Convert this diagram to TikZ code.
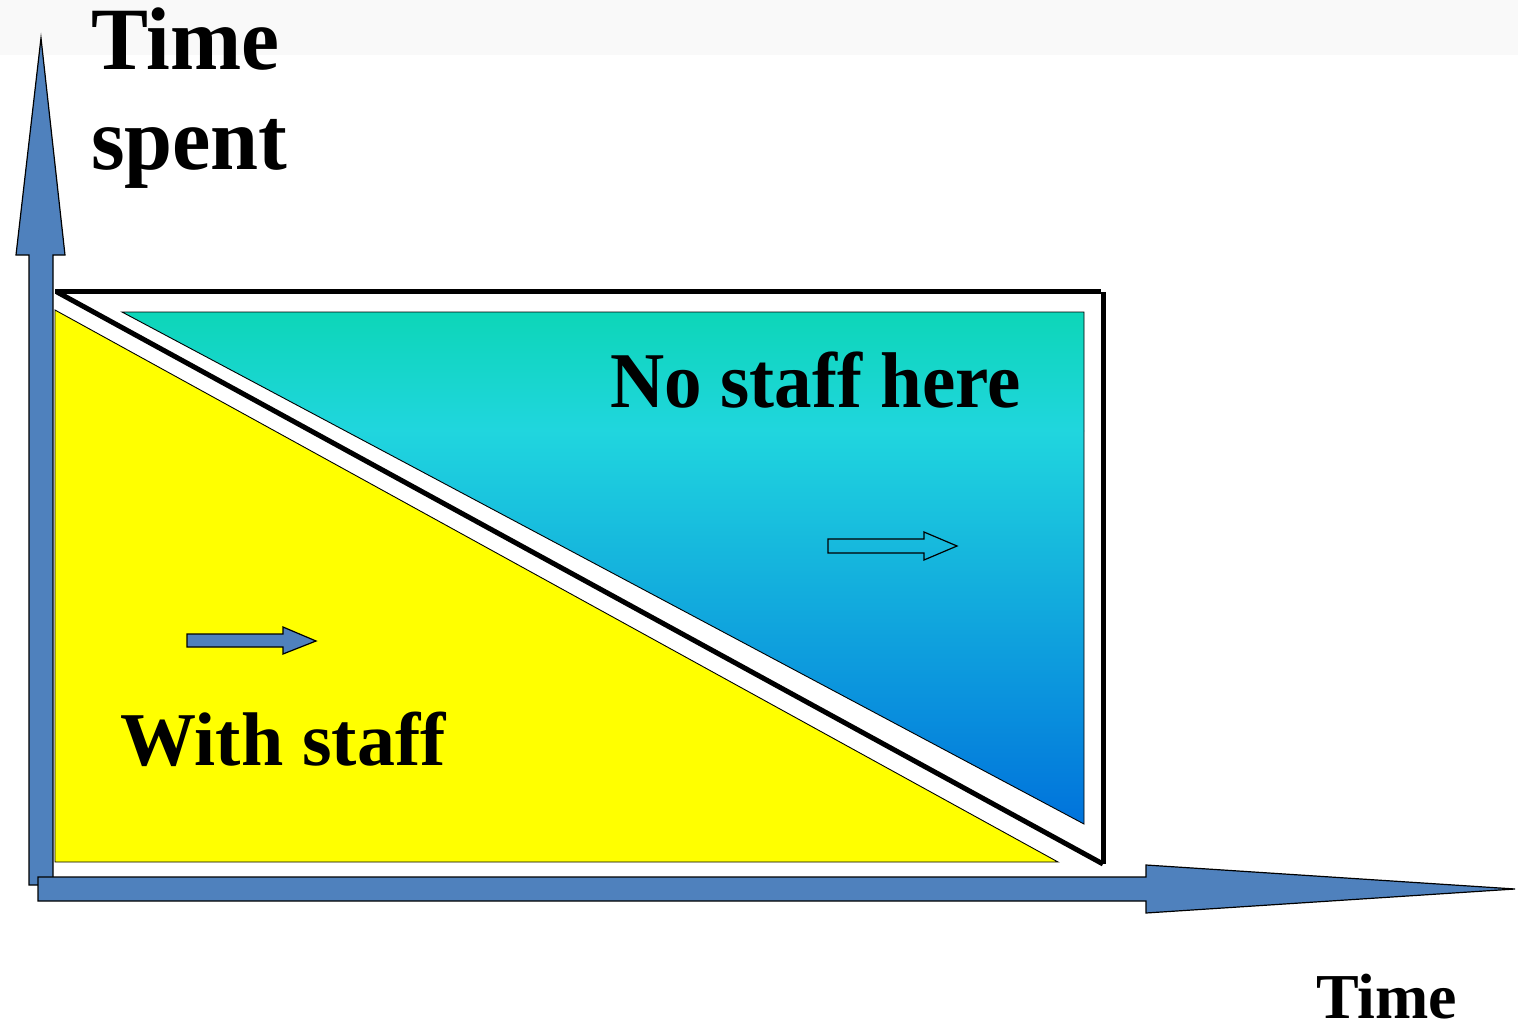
\documentclass[tikz,border=0pt]{standalone}
\usepackage{fontspec}
\setmainfont{Liberation Serif}
\definecolor{axisblue}{RGB}{79,129,189}
\definecolor{teal1}{RGB}{13,214,184}
\definecolor{cyan1}{RGB}{32,214,222}
\definecolor{blue1}{RGB}{0,114,220}
\definecolor{band}{RGB}{249,249,249}
\definecolor{pureyellow}{RGB}{255,255,0}
\tikzset{
  axisarrow/.style={fill=axisblue,draw=black,line width=1.2pt,line join=miter},
  thinedge/.style={draw=black,line width=0.9pt},
  frameline/.style={draw=black,line width=5pt},
  lbl/.style={inner sep=0pt,outer sep=0pt,anchor=base west,font=\bfseries}
}
\begin{document}
\begin{tikzpicture}[x=1pt,y=-1pt]
\useasboundingbox (0,0) rectangle (1518,1030);
\fill[band] (0,0) rectangle (1518,55);
% yellow triangle
\path[fill=pureyellow,thinedge] (55,310) -- (55,862) -- (1058,862) -- cycle;
% gradient triangle
\begin{scope}
\clip (122,312) -- (1084,312) -- (1084,824) -- cycle;
\shade[top color=teal1,bottom color=cyan1] (100,311) rectangle (1090,431);
\shade[top color=cyan1,bottom color=blue1] (100,430) rectangle (1090,826);
\end{scope}
\draw[thinedge] (122,312) -- (1084,312) -- (1084,824) -- cycle;
% black frame
\draw[frameline] (55,291) -- (1101,291);
\draw[frameline] (1103,292) -- (1103,864);
\draw[frameline,line cap=butt] (57,292) -- (1103,864);
% axes
\path[axisarrow] (29,885) -- (29,255) -- (16,255) -- (41,38) -- (65,255) -- (53,255) -- (53,885) -- cycle;
\path[axisarrow] (38,877) -- (1146,877) -- (1146,865) -- (1515,889) -- (1146,913) -- (1146,901) -- (38,901) -- cycle;
% small arrows
\path[axisarrow] (187,634) -- (283,634) -- (283,627) -- (316,641) -- (283,654) -- (283,647) -- (187,647) -- cycle;
\draw[black,line width=1.2pt] (828,539) -- (924,539) -- (924,532) -- (957,546) -- (924,560) -- (924,553) -- (828,553) -- cycle;
% labels
\node[lbl,font=\bfseries\fontsize{89}{100}\selectfont] (time1) at (91,70) {\scalebox{0.96}[1]{Time}};
\node[lbl,font=\bfseries\fontsize{89}{100}\selectfont] (spent) at (91,170) {\scalebox{0.97}[1]{spent}};
\node[lbl,font=\bfseries\fontsize{79}{90}\selectfont] (nostaff) at (610,407) {\scalebox{0.95}[1]{No staff here}};
\node[lbl,font=\bfseries\fontsize{76}{90}\selectfont] (withstaff) at (120,765) {With staff};
\node[lbl,font=\bfseries\fontsize{64}{70}\selectfont] (time2) at (1316,1018) {Time};
\end{tikzpicture}
\end{document}
